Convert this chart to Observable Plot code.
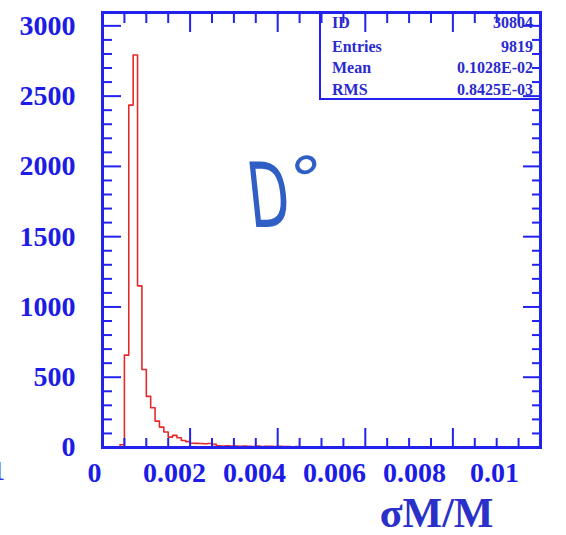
<!DOCTYPE html>
<html><head><meta charset="utf-8">
<script src="https://cdn.jsdelivr.net/npm/d3@7"></script>
<script src="https://cdn.jsdelivr.net/npm/@observablehq/plot@0.6"></script>
<style>
body{margin:0;background:#fff;}
#wrap{position:relative;width:566px;height:535px;overflow:hidden;}
#stats{position:absolute;left:319px;top:12px;width:221px;height:88px;box-sizing:border-box;border-left:2px solid #2222ee;border-bottom:2px solid #2222ee;font-family:"Liberation Serif",serif;font-weight:bold;font-size:16px;color:#2a2ad0;}
.row{position:absolute;left:11px;right:7px;height:16px;line-height:16px;display:flex;justify-content:space-between;}
#dzero{position:absolute;left:0;top:0;width:566px;height:535px;pointer-events:none;font-family:"DejaVu Sans",sans-serif;color:#2f5fc4;line-height:1;}
#dletter{position:absolute;left:243px;top:151px;font-size:90px;font-weight:400;transform:scaleX(0.6) skewX(10deg);transform-origin:left top;}
#ddeg{position:absolute;left:288px;top:142px;font-size:70px;font-weight:400;transform:rotate(-20deg) scaleY(0.85);transform-origin:30px 20px;}
#frag{position:absolute;left:-9px;top:455px;font-family:"Liberation Serif",serif;font-weight:bold;font-size:28px;color:#3030f0;}
</style>
</head><body>
<div id="wrap"></div>
<script>
// Histogram of sigma(M)/M, bin width 0.0001, lower bin edges and counts
const binWidth = 0.0001;
const binStart = [0.0000,0.0001,0.0002,0.0003,0.0004,0.0005,0.0006,0.0007,0.0008,0.0009,
  0.0010,0.0011,0.0012,0.0013,0.0014,0.0015,0.0016,0.0017,0.0018,0.0019,
  0.0020,0.0021,0.0022,0.0023,0.0024,0.0025,0.0026,0.0027,0.0028,0.0029,
  0.0030,0.0031,0.0032,0.0033,0.0034,0.0035,0.0036,0.0037,0.0038,0.0039,
  0.0040,0.0041,0.0042,0.0043,0.0044,0.0045,0.0046,0.0047,0.0048,0.0049,
  0.0050,0.0051,0.0052,0.0053,0.0054,0.0055,0.0056,0.0057,0.0058,0.0059,
  0.0060,0.0061,0.0062,0.0063,0.0064,0.0065,0.0066,0.0067,0.0068,0.0069,
  0.0070,0.0071,0.0072,0.0073,0.0074,0.0075,0.0076];
const counts = [0,0,0,0,20,657,2436,2793,1150,555,
  364,283,188,145,110,74,86,69,50,42,
  30,29,28,27,28,22,12,11,12,10,
  11,9,10,8,6,10,6,9,8,7,
  8,7,6,5,6,5,4,4,3,4,
  3,3,2,3,2,2,2,1,2,1,
  2,1,1,2,1,1,1,1,1,1,
  1,1,0,1,1,1,0];
const xTickValues = [0, 0.002, 0.004, 0.006, 0.008, 0.01];
const xTickLabels = ["0", "0.002", "0.004", "0.006", "0.008", "0.01"];
const yTickValues = [0, 500, 1000, 1500, 2000, 2500, 3000];
const yTickLabels = ["0", "500", "1000", "1500", "2000", "2500", "3000"];
const statNames = ["ID", "Entries", "Mean", "RMS"];
const statValues = ["30804", "9819", "0.1028E-02", "0.8425E-03"];
const xTitle = "σM/M";

const blue = "#2222ee";
const labelBlue = "#1c1ce6";
const red = "#e52a2a";

const pts = binStart.map((x, i) => ({x, y: counts[i]}));
pts.push({x: binStart[binStart.length - 1] + binWidth, y: 0});

const xMajor = d3.range(0, 0.01 + 1e-9, 0.002);
const xMinor = d3.range(0, 0.01 + 1e-9, 0.0005).filter(v => Math.abs(v / 0.002 - Math.round(v / 0.002)) > 1e-6);
const yMajor = d3.range(0, 3001, 500);
const yMinor = d3.range(0, 3001, 100).filter(v => v % 500 !== 0);

const xLabels = xTickValues.map((v, i) => ({v, t: xTickLabels[i]}));
const yLabels = yTickValues.map((v, i) => ({v, t: yTickLabels[i]}));

const tickOpts = (size) => ({tickSize: -size, tickFormat: () => "", stroke: blue, strokeWidth: 2, label: null});

// the original tick labels are spaced slightly tighter than the ticks: shift each progressively left
const xLabelMarks = xLabels.map((d, i) =>
  Plot.text([d], {x: "v", text: "t", frameAnchor: "bottom", dy: 34, dx: -8 - 7.6 * i, fill: labelBlue, fontSize: 28, fontWeight: "bold"}));

const chart = Plot.plot({
  width: 566,
  height: 535,
  marginLeft: 102,
  marginRight: 26,
  marginTop: 12,
  marginBottom: 88,
  style: {fontFamily: "Liberation Serif, serif", background: "white", overflow: "visible"},
  x: {domain: [0, 0.01], axis: null},
  y: {domain: [0, 3095], axis: null},
  marks: [
    Plot.line(pts, {x: "x", y: "y", curve: "step-after", stroke: red, strokeWidth: 1.6}),
    Plot.axisX(xMajor, {anchor: "bottom", ...tickOpts(19)}),
    Plot.axisX(xMinor, {anchor: "bottom", ...tickOpts(9)}),
    Plot.axisX(xMajor, {anchor: "top", ...tickOpts(19)}),
    Plot.axisX(xMinor, {anchor: "top", ...tickOpts(10)}),
    Plot.axisY(yMajor, {anchor: "left", ...tickOpts(19)}),
    Plot.axisY(yMinor, {anchor: "left", ...tickOpts(10)}),
    Plot.axisY(yMajor, {anchor: "right", ...tickOpts(18)}),
    Plot.axisY(yMinor, {anchor: "right", ...tickOpts(9)}),
    Plot.frame({stroke: blue, strokeWidth: 3}),
    Plot.text(yLabels, {y: "v", text: "t", frameAnchor: "left", dx: -27, textAnchor: "end", fill: labelBlue, fontSize: 28, fontWeight: "bold"}),
    ...xLabelMarks,
    Plot.text([xTitle], {text: d => d, frameAnchor: "bottom-right", dx: -47, dy: 79, textAnchor: "end", fill: "#2a30c8", fontSize: 42, fontWeight: "bold"})
  ]
});

const wrap = document.getElementById("wrap");
wrap.appendChild(chart);

const stats = document.createElement("div");
stats.id = "stats";
const rowTops = [3, 27, 48, 70];
statNames.forEach((n, i) => {
  const r = document.createElement("div");
  r.className = "row";
  r.style.top = rowTops[i] + "px";
  const a = document.createElement("span"); a.textContent = n;
  const b = document.createElement("span"); b.textContent = statValues[i];
  r.appendChild(a); r.appendChild(b);
  stats.appendChild(r);
});
wrap.appendChild(stats);

const d0 = document.createElement("div");
d0.id = "dzero";
const dl = document.createElement("span"); dl.id = "dletter"; dl.textContent = "D";
const dd = document.createElement("span"); dd.id = "ddeg"; dd.textContent = "°";
d0.appendChild(dl); d0.appendChild(dd);
wrap.appendChild(d0);

const frag = document.createElement("div");
frag.id = "frag";
frag.textContent = "1";
wrap.appendChild(frag);
</script>
</body></html>
